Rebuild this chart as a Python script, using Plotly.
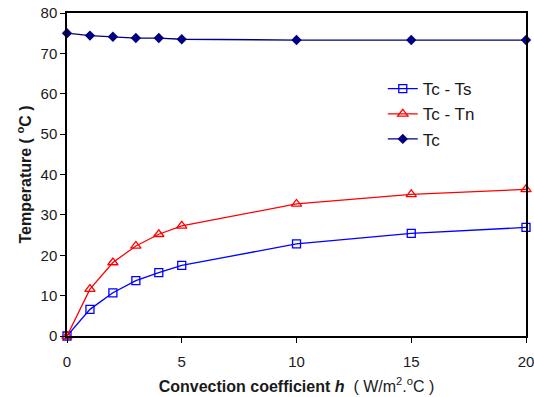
import plotly.graph_objects as go

# Convection coefficient h (W/m2.°C)
h = [0, 1, 2, 3, 4, 5, 10, 15, 20]

# Temperatures (°C)
tc_ts = [0, 6.6, 10.7, 13.7, 15.7, 17.5, 22.8, 25.4, 26.9]
tc_tn = [0, 11.6, 18.2, 22.3, 25.2, 27.3, 32.7, 35.1, 36.3]
tc = [75, 74.4, 74.1, 73.8, 73.8, 73.5, 73.3, 73.3, 73.3]

FONT = "Liberation Sans, Arial, sans-serif"

fig = go.Figure()
fig.add_trace(go.Scatter(
    x=h, y=tc_ts, name="Tc - Ts", mode="lines+markers",
    line=dict(color="#0000FF", width=1.3),
    marker=dict(symbol="square-open", size=8, color="#0000FF", line=dict(width=1.3)),
    cliponaxis=False,
))
fig.add_trace(go.Scatter(
    x=h, y=tc_tn, name="Tc - Tn", mode="lines+markers",
    line=dict(color="#FF0000", width=1.3),
    marker=dict(symbol="triangle-up-open", size=9, color="#FF0000", line=dict(width=1.3)),
    cliponaxis=False,
))
fig.add_trace(go.Scatter(
    x=h, y=tc, name="Tc", mode="lines+markers",
    line=dict(color="#000080", width=1.3),
    marker=dict(symbol="diamond", size=8, color="#000080"),
    cliponaxis=False,
))

fig.update_layout(
    width=534, height=397,
    margin=dict(l=67, r=8, t=13, b=61),
    paper_bgcolor="white", plot_bgcolor="white",
    font=dict(family=FONT, color="#1a1a1a", size=15),
    showlegend=True,
    legend=dict(
        x=0.688, y=0.82, xanchor="left", yanchor="top",
        bgcolor="rgba(0,0,0,0)", font=dict(size=17, color="#1a1a1a"),
        tracegroupgap=0, itemwidth=30,
    ),
    xaxis=dict(
        range=[0, 20], tickvals=[0, 5, 10, 15, 20],
        showgrid=False, zeroline=False, automargin=False,
        showline=True, linecolor="black", linewidth=1.5, mirror=True,
        ticks="outside", ticklen=5, tickcolor="black",
        ticklabelstandoff=6, ticklabeloverflow="allow",
        tickfont=dict(size=15),
        title=dict(
            text="<b>Convection coefficient <i>h</i></b>  ( W/m<sup>2</sup>.<sup>o</sup>C )",
            font=dict(size=16), standoff=12,
        ),
    ),
    yaxis=dict(
        range=[0, 80], tickvals=[0, 10, 20, 30, 40, 50, 60, 70, 80],
        showgrid=False, zeroline=False, automargin=False,
        showline=True, linecolor="black", linewidth=1.5, mirror=True,
        ticks="outside", ticklen=5, tickcolor="black",
        ticklabeloverflow="allow",
        tickfont=dict(size=15),
        title=dict(text="<b>Temperature ( <sup>o</sup>C )</b>", font=dict(size=16), standoff=5),
    ),
)

fig.write_html("out.html")
